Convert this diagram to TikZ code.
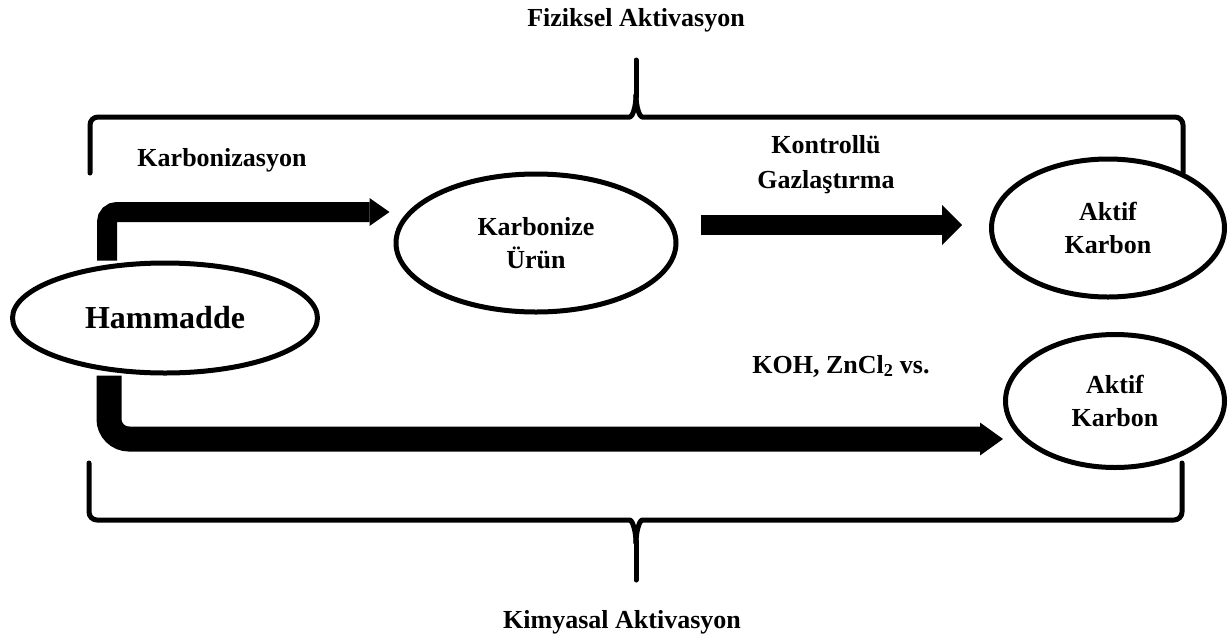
\documentclass[tikz,border=0pt]{standalone}
\usepackage{fontspec}
\setmainfont{Liberation Serif}
\usetikzlibrary{arrows.meta,shapes.geometric,backgrounds}

\begin{document}
\begin{tikzpicture}[x=1pt,y=-1pt,
  blob/.style={ellipse,draw,line width=5pt,fill=white,inner sep=0pt,align=center,font=\bfseries\fontsize{26}{33}\selectfont},
  lbl/.style={font=\bfseries\fontsize{26}{35}\selectfont,align=center},
  brc/.style={line width=5pt,line cap=round,line join=round}]
\useasboundingbox (0,0) rectangle (1232,638);
\node[lbl] (fiz) at (636,20) {Fiziksel Aktivasyon};
\node[lbl] (karb) at (222,160) {Karbonizasyon};
\node[lbl] (gaz) at (826,165) {Kontrollü\\Gazlaştırma};
\node[lbl] (koh) at (841,366) {KOH, ZnCl\textsubscript{2} vs.};
\node[lbl] (kim) at (622,622) {Kimyasal Aktivasyon};
\node[blob,minimum width=305pt,minimum height=110pt,font=\bfseries\fontsize{32}{36}\selectfont] (hm) at (165,318) {Hammadde};
\node[blob,minimum width=280pt,minimum height=138pt] (kp) at (536,243) {Karbonize\\Ürün};
\node[blob,minimum width=233pt,minimum height=138pt] (ak1) at (1108,228) {Aktif\\Karbon};
\node[blob,minimum width=219pt,minimum height=133pt] (ak2) at (1115,401) {Aktif\\Karbon};
\begin{pgfonlayer}{background}
\draw[line width=20pt,rounded corners=10pt,-{Triangle[length=20pt,width=28pt,line width=0pt,round]}] ([xshift=-58pt]hm.north) |- ([xshift=-4pt,yshift=31pt]kp.west);
\draw[line width=20pt,-{Triangle[length=20pt,width=40pt,line width=0pt]}] ([xshift=22pt,yshift=18pt]kp.east) -- ([xshift=-27pt,yshift=3pt]ak1.west);
\draw[line width=25pt,rounded corners=20pt,-{Triangle[length=23pt,width=33pt,line width=0pt,round]}] ([xshift=-56pt]hm.south) |- ([yshift=-38pt]ak2.west);
\end{pgfonlayer}
\draw[brc,rounded corners=8pt] (90,173) |- (622,117) .. controls (632,117) and (636,108) .. (636,95);
\draw[brc,rounded corners=8pt] (636,95) .. controls (636,108) and (640,117) .. (650,117) -| (1183,173);
\draw[brc] (636,97) -- (636,60);
\draw[brc,rounded corners=8pt] (89,463) |- (622,520) .. controls (632,520) and (636,530) .. (636,543);
\draw[brc,rounded corners=8pt] (636,543) .. controls (636,530) and (640,520) .. (650,520) -| (1182,463);
\draw[brc] (636,541) -- (636,580);
\end{tikzpicture}
\end{document}
